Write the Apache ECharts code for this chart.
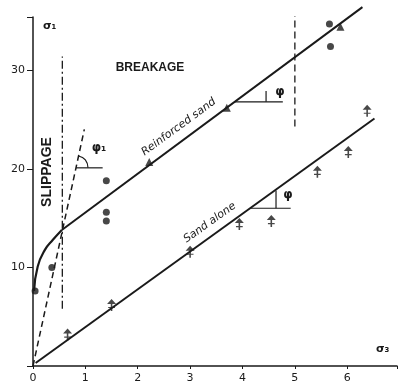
<!DOCTYPE html>
<html>
<head>
<meta charset="utf-8">
<script src="https://cdn.jsdelivr.net/npm/echarts@6/dist/echarts.min.js"></script>
<style>html,body{margin:0;background:#fff}#c{width:400px;height:390px}</style>
</head>
<body>
<div id="c"></div>
<script>
// test results, [sigma3, sigma1]
var reinforcedDots = [[0.04, 7.6], [0.36, 10.0], [1.4, 18.8], [1.4, 15.6], [1.4, 14.7], [5.66, 34.7], [5.68, 32.4]];
var reinforcedTri = [[2.22, 20.7], [3.7, 26.2], [5.87, 34.4]];
var sandPts = [[0.66, 3.2], [1.5, 6.2], [3.0, 11.6], [3.94, 14.4], [4.55, 14.7], [5.43, 19.7], [6.02, 21.7], [6.38, 25.9]];

// envelopes and boundaries
var reinforcedEnv = [[0.55, 13.8], [6.29, 36.4]];
var sandEnv = [[0.05, 0.3], [6.52, 25.1]];
var slipCurve = [[0.02, 7.6], [0.09, 10.1], [0.23, 11.8], [0.38, 12.8], [0.55, 13.8]];
var slipDash = [[0, 0], [0.98, 24]];
var slipBound = [[0.56, 5.8], [0.56, 31.4]];
var breakBound = [[5.0, 24.3], [5.0, 35.5]];

// angle marks
var phi1Base = [[0.82, 20.1], [1.33, 20.1]];
var phi1Arc = [[1.05, 20.1], [1.0, 20.9], [0.87, 21.3]];
var phiRBase = [[3.84, 26.8], [4.77, 26.8]];
var phiRTick = [[4.45, 26.8], [4.45, 27.9]];
var phiSBase = [[4.15, 16.0], [4.92, 16.0]];
var phiSTick = [[4.64, 16.0], [4.64, 17.8]];

var xTicks = [0, 1, 2, 3, 4, 5, 6];
var yTicks = [10, 20, 30];

var ink = '#1a1a1a';
var chart = echarts.init(document.getElementById('c'));

function seg(data, width, type, smooth) {
  return {
    type: 'line', data: data, symbol: 'none', clip: false, smooth: !!smooth,
    lineStyle: { color: ink, width: width, type: type || 'solid' },
    silent: true, z: 2
  };
}

var crossMark = 'path://M5,0 L9,5 L1,5 Z M4.3,5 L5.7,5 L5.7,12 L4.3,12 Z M2,8 L8,8 L8,9.2 L2,9.2 Z';

chart.setOption({
  animation: false,
  grid: { left: 33, right: 0, top: 17, bottom: 24 },
  xAxis: {
    type: 'value', min: 0, max: 6.95, interval: 1,
    axisLine: { lineStyle: { color: ink, width: 1.5 } },
    axisTick: { show: true, length: 3, lineStyle: { color: ink } },
    splitLine: { show: false },
    axisLabel: {
      margin: 7, color: ink, fontSize: 11, fontFamily: 'DejaVu Sans',
      formatter: function (v) { return xTicks.indexOf(v) >= 0 ? String(v) : ''; }
    }
  },
  yAxis: {
    type: 'value', min: 0, max: 35.4, interval: 10,
    axisLine: { lineStyle: { color: ink, width: 1.5 } },
    axisTick: { show: true, length: 6, lineStyle: { color: ink } },
    splitLine: { show: false },
    axisLabel: {
      margin: 8, color: ink, fontSize: 11, fontFamily: 'DejaVu Sans',
      formatter: function (v) { return yTicks.indexOf(v) >= 0 ? String(v) : ''; }
    }
  },
  series: [
    seg(reinforcedEnv, 2),
    seg(sandEnv, 2),
    seg(slipCurve, 2.2, 'solid', true),
    seg(slipDash, 1.5, [6, 4]),
    seg(slipBound, 1.3, [8, 3, 2, 3]),
    seg(breakBound, 1.3, [7, 4]),
    seg(phi1Base, 1.2),
    seg(phi1Arc, 1.2, 'solid', true),
    seg(phiRBase, 1.2),
    seg(phiRTick, 1.2),
    seg(phiSBase, 1.2),
    seg(phiSTick, 1.2),
    {
      type: 'scatter', data: reinforcedDots, symbol: 'circle', symbolSize: 7,
      itemStyle: { color: ink }, z: 3
    },
    {
      type: 'scatter', data: reinforcedTri, symbol: 'triangle', symbolSize: 8,
      itemStyle: { color: ink }, z: 3
    },
    {
      type: 'scatter', data: sandPts, symbol: crossMark, symbolSize: [9, 12],
      itemStyle: { color: ink }, z: 3
    }
  ],
  graphic: [
    { type: 'text', left: 43, top: 21, style: { text: 'σ₁', font: 'bold 11px DejaVu Sans', fill: ink } },
    { type: 'text', left: 376, top: 344, style: { text: 'σ₃', font: 'bold 11px DejaVu Sans', fill: ink } },
    { type: 'text', x: 150, y: 68, style: { text: 'BREAKAGE', font: 'bold 12px Liberation Sans', fill: ink, align: 'center', verticalAlign: 'middle' } },
    { type: 'text', x: 47, y: 172, rotation: Math.PI / 2, style: { text: 'SLIPPAGE', font: 'bold 14px Liberation Sans', fill: ink, align: 'center', verticalAlign: 'middle' } },
    { type: 'text', x: 146, y: 158, rotation: 0.634, style: { text: 'Reinforced sand', font: 'italic 11px DejaVu Sans', fill: ink, align: 'left', verticalAlign: 'bottom' } },
    { type: 'text', x: 188, y: 245, rotation: 0.62, style: { text: 'Sand alone', font: 'italic 11px DejaVu Sans', fill: ink, align: 'left', verticalAlign: 'bottom' } },
    { type: 'text', x: 99, y: 148, style: { text: 'φ₁', font: 'bold 12px DejaVu Sans', fill: ink, align: 'center', verticalAlign: 'middle' } },
    { type: 'text', x: 280, y: 92, style: { text: 'φ', font: 'bold 12px DejaVu Sans', fill: ink, align: 'center', verticalAlign: 'middle' } },
    { type: 'text', x: 288, y: 195, style: { text: 'φ', font: 'bold 12px DejaVu Sans', fill: ink, align: 'center', verticalAlign: 'middle' } }
  ]
});
</script>
</body>
</html>
